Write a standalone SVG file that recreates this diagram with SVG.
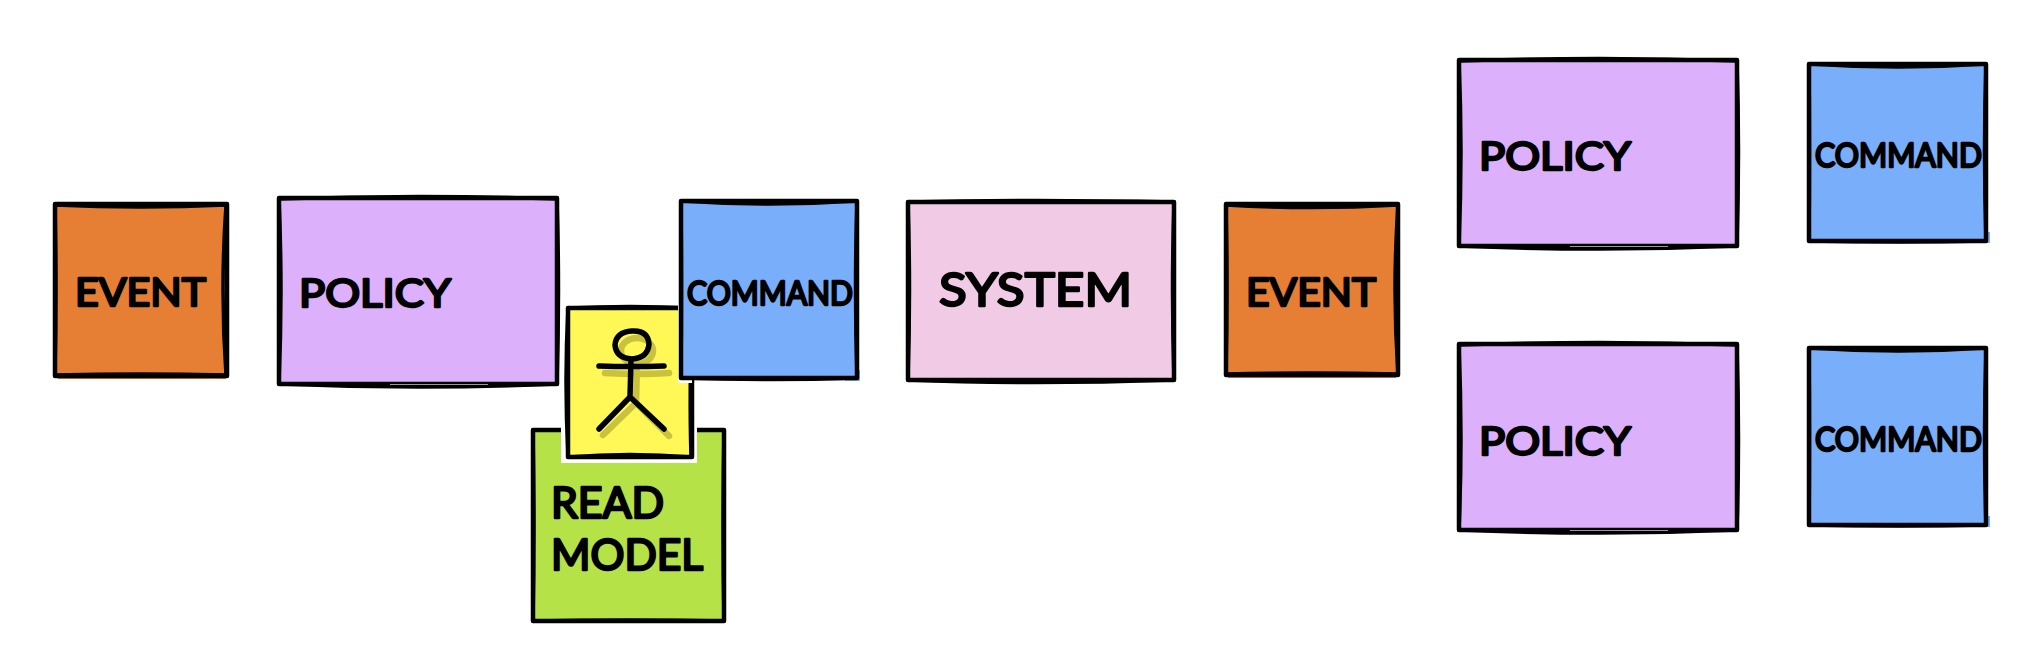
<svg xmlns="http://www.w3.org/2000/svg" width="2038" height="662" viewBox="0 0 2038 662">
<style>
.b{stroke:#000;stroke-width:4.5;stroke-linejoin:round;stroke-linecap:round}
.k{fill:none;stroke:#000;stroke-width:3.5;stroke-linejoin:round;stroke-linecap:round}
.o{fill:#e67e33}.p{fill:#dcb0fa}.c{fill:#78aefa}.s{fill:#f1cbe6}.g{fill:#b5e247}.y{fill:#fff856}
text{font-family:"Lato","Noto Sans",sans-serif;font-weight:400;fill:#000;stroke:#000;stroke-width:2.4;stroke-linejoin:round;stroke-linecap:round}
.t{font-size:39px}.m{font-size:32px}.r{font-size:42px}.x{font-size:47px}
.a{fill:none;stroke:#000;stroke-width:5.5;stroke-linecap:round;stroke-linejoin:round}
.h{fill:none;stroke:#c9c23c;stroke-width:6.5;stroke-linecap:round;stroke-linejoin:round}
.l{stroke:#999;stroke-width:1;fill:none}
</style>
<rect width="2038" height="662" fill="#fff"/>
<g id="connectors"></g>
<g id="event-1"><rect class="o" x="58" y="370" width="168" height="9"/><path class="b o" d="M55 204H227V376H55Z"/><path class="k" d="M55 205Q140 209 226 205Q220 290 226 375Q140 373 55 375Q57 290 55 205Z"/><text class="t" x="75" y="306" textLength="131" lengthAdjust="spacingAndGlyphs">EVENT</text></g>
<g id="policy-1"><path class="b p" d="M279 198H557V384H279Z"/><path class="k" d="M279 199Q420 194 557 199Q560 290 557 384Q420 390 279 384Q283 290 279 199Z"/><path class="l" d="M390 384.500H488"/><text class="t" x="299" y="307" textLength="152" lengthAdjust="spacingAndGlyphs">POLICY</text></g>
<g id="read-model"><path class="b g" d="M533 430H724V621H533Z"/><path class="k" d="M533 430Q630 431 724 430Q722 530 724 621Q630 619 533 621Q535 530 533 430Z"/><text class="r" x="551" y="518" textLength="113" lengthAdjust="spacingAndGlyphs">READ</text><text class="r" x="551" y="570" textLength="152" lengthAdjust="spacingAndGlyphs">MODEL</text></g>
<g id="actor"><rect x="561" y="420" width="136" height="43" fill="#fff"/><path class="b y" d="M568 308H692V457H568Z"/><path class="k" d="M568 308Q630 305 692 308Q689 390 691 457Q630 452 568 457Q564 380 568 308Z"/>
<ellipse class="h" cx="637" cy="351" rx="16" ry="13"/><path class="h" d="M605 373Q640 375 669 373M637 365L636 403M636 403L603 435M636 403L669 436"/>
<path class="a" d="M632 331Q648 330 649 344Q648 358 632 359Q616 358 615 345Q616 332 632 331ZM599 366Q630 367 664 366M631 360L630 397M630 397L599 429M630 397L664 429"/></g>
<g id="command-1"><rect x="678" y="199" width="14" height="184" fill="#fff"/><rect class="c" x="845" y="370" width="15" height="11"/><path class="b c" d="M681 201H857V378H681Z"/><path class="k" d="M681 201Q770 207 857 201Q854 290 857 378Q770 381 681 378Q682 290 681 201Z"/><text class="m" x="687" y="305" textLength="166" lengthAdjust="spacingAndGlyphs">COMMAND</text></g>
<g id="system"><path class="b s" d="M908 202H1174V380H908Z"/><path class="k" d="M908 202Q1030 199 1174 202Q1171 290 1174 380Q1030 385 908 380Q911 290 908 202Z"/><text class="x" x="939" y="306" textLength="193" lengthAdjust="spacingAndGlyphs">SYSTEM</text></g>
<g id="event-2"><rect class="o" x="1228" y="370" width="168" height="8"/><path class="b o" d="M1226 204H1398V375H1226Z"/><path class="k" d="M1226 205Q1310 210 1398 205Q1392 290 1398 374Q1310 372 1226 374Q1228 290 1226 205Z"/><text class="t" x="1246" y="306" textLength="130" lengthAdjust="spacingAndGlyphs">EVENT</text></g>
<g id="policy-2"><path class="b p" d="M1459 60H1737V246H1459Z"/><path class="k" d="M1459 61Q1600 56 1737 61Q1740 150 1737 246Q1600 252 1459 246Q1463 150 1459 61Z"/><path class="l" d="M1570 246.500H1668"/><text class="t" x="1479" y="170" textLength="152" lengthAdjust="spacingAndGlyphs">POLICY</text></g>
<g id="command-2"><rect class="c" x="1975" y="232" width="15" height="11"/><path class="b c" d="M1809 64H1986V241H1809Z"/><path class="k" d="M1809 64Q1900 70 1986 64Q1983 150 1986 241Q1900 243 1809 241Q1810 150 1809 64Z"/><text class="m" x="1815" y="167" textLength="167" lengthAdjust="spacingAndGlyphs">COMMAND</text></g>
<g id="policy-3"><path class="b p" d="M1459 344H1737V530H1459Z"/><path class="k" d="M1459 345Q1600 340 1737 345Q1740 440 1737 530Q1600 536 1459 530Q1463 440 1459 345Z"/><path class="l" d="M1570 530.500H1668"/><text class="t" x="1479" y="455" textLength="152" lengthAdjust="spacingAndGlyphs">POLICY</text></g>
<g id="command-3"><rect class="c" x="1975" y="516" width="15" height="11"/><path class="b c" d="M1809 348H1986V525H1809Z"/><path class="k" d="M1809 348Q1900 354 1986 348Q1983 440 1986 525Q1900 527 1809 525Q1810 440 1809 348Z"/><text class="m" x="1815" y="451" textLength="167" lengthAdjust="spacingAndGlyphs">COMMAND</text></g>
</svg>
